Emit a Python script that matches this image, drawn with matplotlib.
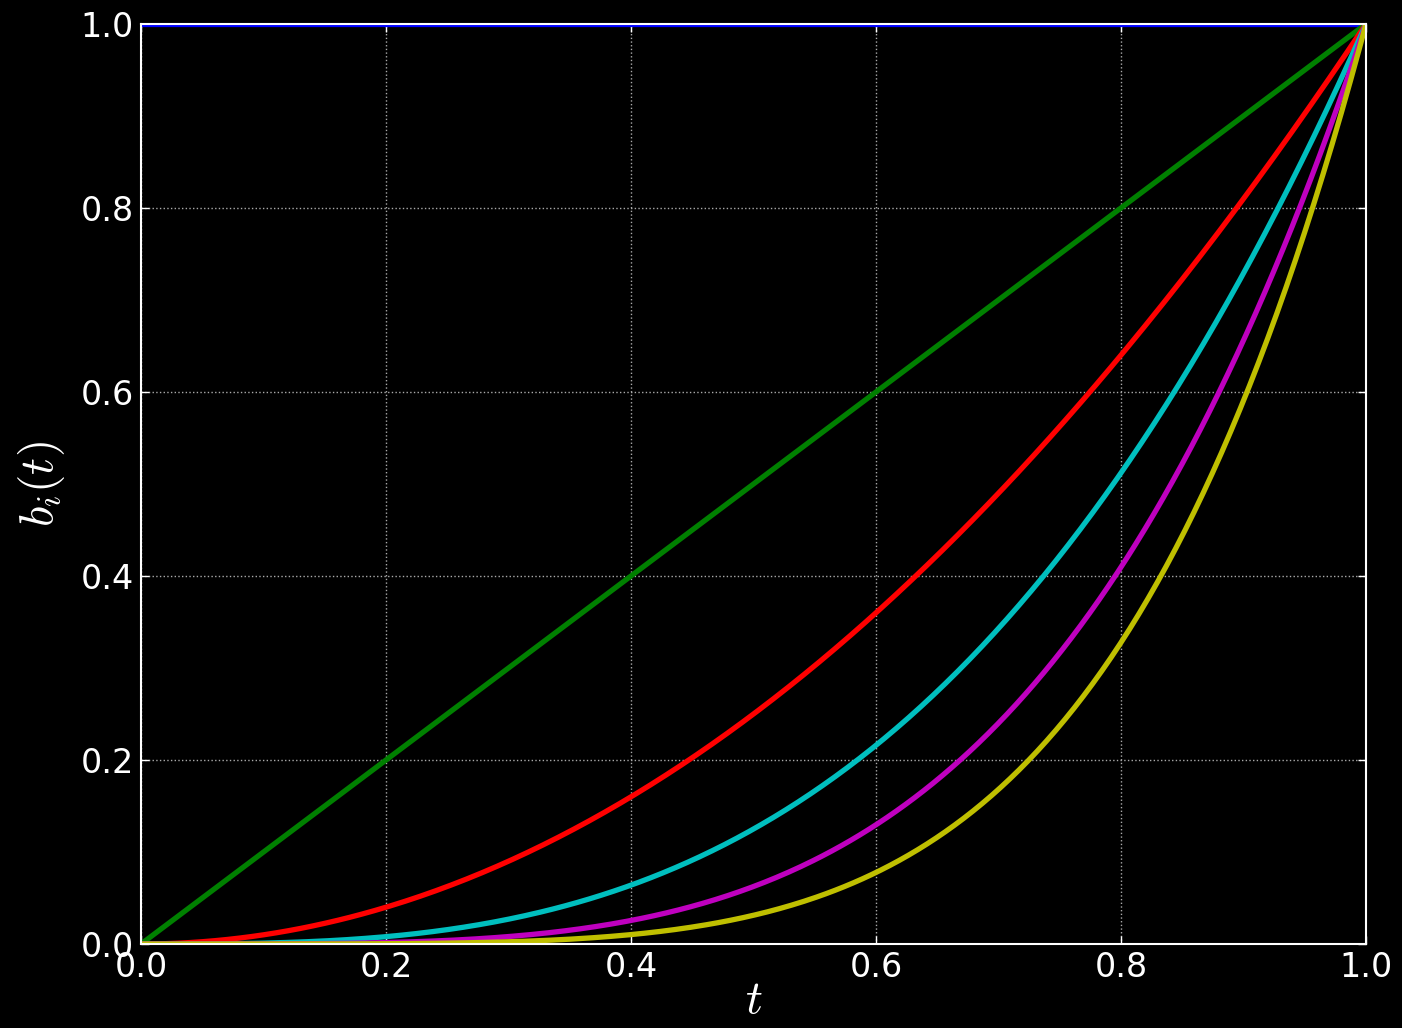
import numpy as np
import matplotlib
matplotlib.use("Agg")
import matplotlib.pyplot as plt

# b_i(t) = t**i, one curve per exponent
exponents = [0, 1, 2, 3, 4, 5]
colors = ["b", "g", "r", "c", "m", "y"]
x_ticks = [0.0, 0.2, 0.4, 0.6, 0.8, 1.0]
y_ticks = [0.0, 0.2, 0.4, 0.6, 0.8, 1.0]

plt.rcParams["mathtext.fontset"] = "cm"
plt.rcParams["font.family"] = "DejaVu Sans"

fig = plt.figure(figsize=(14.02, 10.28), dpi=100, facecolor="black")
ax = fig.add_axes([0.1006, 0.0817, 0.8737, 0.895], facecolor="black")

t = np.linspace(0, 1, 400)
for p, c in zip(exponents, colors):
    ax.plot(t, t ** p, color=c, lw=3.8)

ax.set_xlim(0, 1)
ax.set_ylim(0, 1)
ax.set_xticks(x_ticks)
ax.set_yticks(y_ticks)
ax.set_xticklabels([f"{v:.1f}" for v in x_ticks])
ax.set_yticklabels([f"{v:.1f}" for v in y_ticks])
ax.tick_params(colors="white", labelsize=24, direction="in", length=6, width=1,
               top=True, right=True, pad=5)
for s in ax.spines.values():
    s.set_color("white")
    s.set_linewidth(1.5)
ax.grid(True, color="#aaaaaa", linestyle=":", linewidth=1)

ax.set_xlabel(r"$t$", color="white", fontsize=34, labelpad=-4)
ax.set_ylabel(r"$b_i(t)$", color="white", fontsize=34, labelpad=10)

fig.savefig("out.png", dpi=100, facecolor="black")
